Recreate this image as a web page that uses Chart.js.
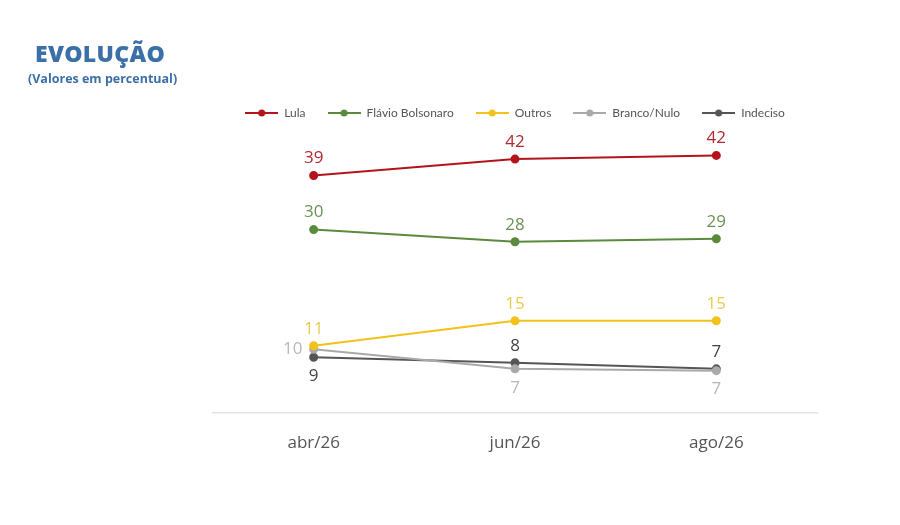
<!DOCTYPE html>
<html>
<head>
<meta charset="utf-8">
<script src="https://cdn.jsdelivr.net/npm/chart.js@4.4.1/dist/chart.umd.min.js"></script>
<style>
  html, body { margin: 0; padding: 0; background: #ffffff; }
  #wrap { position: relative; width: 900px; height: 525px; }
  #title { position: absolute; left: 35px; top: 37px; font-family: "Open Sans", sans-serif; font-weight: 800; font-size: 23px; color: #3b6fa8; letter-spacing: 0.3px; }
  #subtitle { position: absolute; left: 28px; top: 70px; font-family: "Open Sans", sans-serif; font-weight: 700; font-size: 12.5px; color: #3b6fa8; }
  canvas { position: absolute; left: 0; top: 0; }
</style>
</head>
<body>
<div id="wrap">
  <canvas id="c" width="900" height="525"></canvas>
  <div id="title">EVOLUÇÃO</div>
  <div id="subtitle">(Valores em percentual)</div>
</div>
<script>
const categories = ["abr/26", "jun/26", "ago/26"];
const seriesNames = ["Lula", "Flávio Bolsonaro", "Outros", "Branco/Nulo", "Indeciso"];
const lula = [39.0, 41.7, 42.3];
const flavio = [30.1, 28.1, 28.6];
const outros = [11.0, 15.1, 15.1];
const brancoNulo = [10.4, 7.2, 6.9];
const indeciso = [9.1, 8.2, 7.2];
const shownLula = [39, 42, 42];
const shownFlavio = [30, 28, 29];
const shownOutros = [11, 15, 15];
const shownBranco = [10, 7, 7];
const shownIndeciso = [9, 8, 7];

const lineColors = ["#b3141c", "#5b8a3c", "#f2c21b", "#a9a9a9", "#555555"];
const labelColors = ["#b02a30", "#6b9256", "#e9cd4e", "#b8b8b8", "#444444"];
const labelAligns = [
  ["top", "top", "top"],
  ["top", "top", "top"],
  ["top", "top", "top"],
  ["left", "bottom", "bottom"],
  ["bottom", "top", "top"]
];
const seriesValues = [lula, flavio, outros, brancoNulo, indeciso];
const seriesShown = [shownLula, shownFlavio, shownOutros, shownBranco, shownIndeciso];

function legendIcon(color) {
  const cv = document.createElement("canvas");
  cv.width = 33; cv.height = 10;
  const g = cv.getContext("2d");
  g.strokeStyle = color; g.lineWidth = 2;
  g.beginPath(); g.moveTo(0, 5); g.lineTo(33, 5); g.stroke();
  g.fillStyle = color;
  g.beginPath(); g.arc(16.5, 5, 3.5, 0, Math.PI * 2); g.fill();
  return cv;
}

const datasets = seriesNames.map((name, i) => ({
  label: name,
  data: seriesValues[i],
  shown: seriesShown[i],
  aligns: labelAligns[i],
  labelColor: labelColors[i],
  borderColor: lineColors[i],
  backgroundColor: lineColors[i],
  pointBackgroundColor: lineColors[i],
  pointBorderColor: lineColors[i],
  borderWidth: 2,
  pointRadius: 3.5,
  tension: 0,
  clip: false
}));

const legendGap = {
  id: "legendGap",
  beforeInit(chart) {
    const orig = chart.legend.fit;
    chart.legend.fit = function () {
      orig.bind(chart.legend)();
      this.height += 10;
    };
  }
};

const valueLabels = {
  id: "valueLabels",
  afterDatasetsDraw(chart) {
    const ctx = chart.ctx;
    ctx.save();
    ctx.font = "17px 'Open Sans', sans-serif";
    ctx.textAlign = "center";
    ctx.textBaseline = "middle";
    chart.data.datasets.forEach((ds, di) => {
      const meta = chart.getDatasetMeta(di);
      meta.data.forEach((pt, i) => {
        let x = pt.x, y = pt.y;
        const a = ds.aligns[i];
        if (a === "top") y -= 17;
        else if (a === "bottom") y += 19;
        else if (a === "left") x -= 21;
        ctx.fillStyle = ds.labelColor;
        ctx.fillText(String(ds.shown[i]), x, y);
      });
    });
    ctx.restore();
  }
};

new Chart(document.getElementById("c"), {
  type: "line",
  data: { labels: categories, datasets },
  options: {
    responsive: false,
    animation: false,
    devicePixelRatio: 1,
    layout: { padding: { left: 213, right: 83, top: 85, bottom: 52 } },
    plugins: {
      tooltip: { enabled: false },
      legend: {
        position: "top",
        labels: {
          usePointStyle: true,
          pointStyleWidth: 33,
          padding: 22,
          color: "#555555",
          font: { family: "Lato, sans-serif", size: 12 },
          generateLabels(chart) {
            return chart.data.datasets.map((ds, i) => ({
              text: ds.label,
              pointStyle: legendIcon(ds.borderColor),
              fillStyle: ds.borderColor,
              strokeStyle: ds.borderColor,
              lineWidth: 0,
              hidden: false,
              datasetIndex: i,
              fontColor: "#555555"
            }));
          }
        }
      }
    },
    scales: {
      x: {
        offset: true,
        grid: { display: false, drawTicks: false },
        border: { display: true, color: "#e2e2e2", width: 1.5 },
        ticks: { color: "#555555", padding: 20, font: { family: "'Open Sans', sans-serif", size: 17 } }
      },
      y: {
        display: false,
        min: 0,
        max: 45
      }
    }
  },
  plugins: [legendGap, valueLabels]
});
</script>
</body>
</html>
